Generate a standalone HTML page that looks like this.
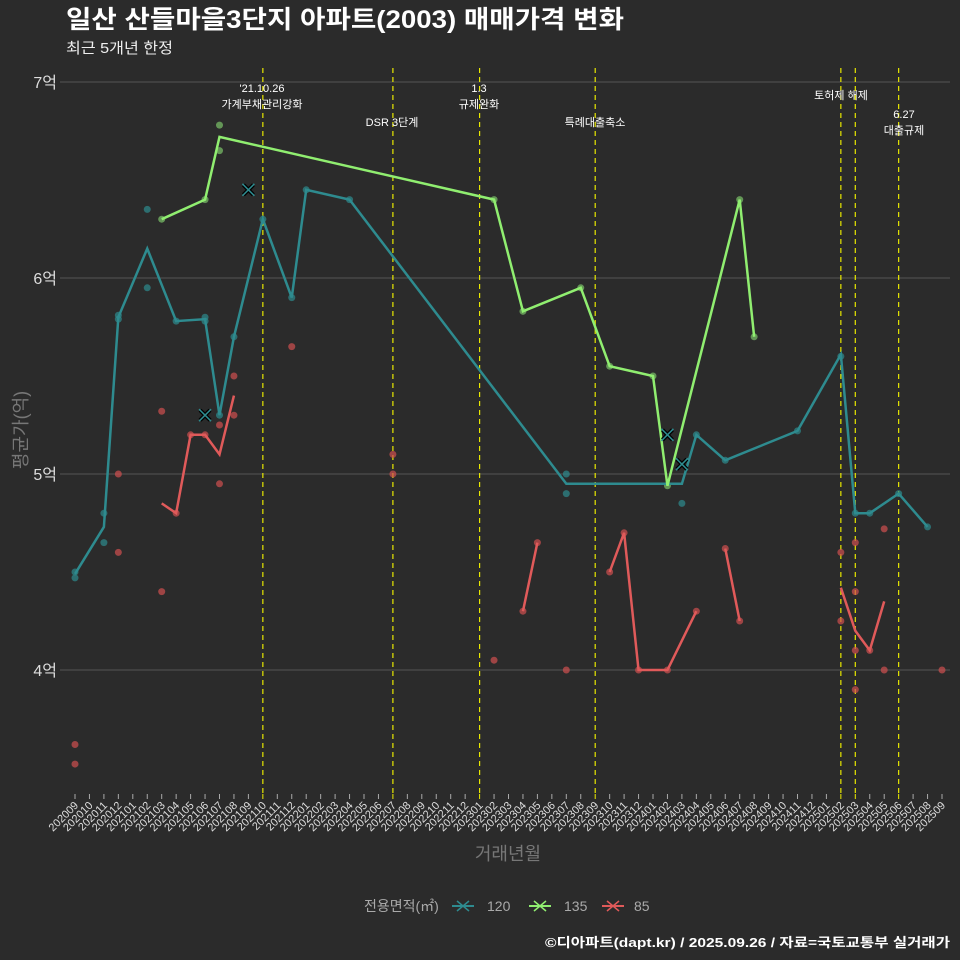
<!DOCTYPE html>
<html><head><meta charset="utf-8"><style>
body{margin:0;background:#2b2b2b;}
svg{display:block;font-family:"Liberation Sans","Noto Sans CJK KR",sans-serif;}
</style></head><body>
<svg id="c" width="960" height="960">
<rect width="960" height="960" fill="#2b2b2b"/>
<text x="66" y="28" font-size="25" font-weight="bold" fill="#fff" textLength="558" lengthAdjust="spacingAndGlyphs">일산 산들마을3단지 아파트(2003) 매매가격 변화</text>
<text x="66" y="53" font-size="15" fill="#eee" textLength="107" lengthAdjust="spacingAndGlyphs">최근 5개년 한정</text>
<text x="27" y="430" font-size="18" fill="#777" transform="rotate(-90 27 430)" text-anchor="middle">평균가(억)</text>
<text x="508" y="860" font-size="18" fill="#777" text-anchor="middle">거래년월</text>
<g id="grid"></g><g id="events"></g><g id="marks"></g><g id="xt"></g>
<g>
<text x="364" y="911" font-size="14" fill="#aaa">전용면적(㎡)</text>
<g><line x1="452" y1="906" x2="474" y2="906" stroke="#2e8b8f" stroke-width="2"/><path d="M457 901 l12 10 M469 901 l-12 10" stroke="#2e8b8f" stroke-width="1.5"/><text x="487" y="911" font-size="14" fill="#aaa">120</text></g>
<g><line x1="529" y1="906" x2="551" y2="906" stroke="#90ee70" stroke-width="2"/><path d="M534 901 l12 10 M546 901 l-12 10" stroke="#90ee70" stroke-width="1.5"/><text x="564" y="911" font-size="14" fill="#aaa">135</text></g>
<g><line x1="602" y1="906" x2="624" y2="906" stroke="#e05a5a" stroke-width="2"/><path d="M607 901 l12 10 M619 901 l-12 10" stroke="#e05a5a" stroke-width="1.5"/><text x="634" y="911" font-size="14" fill="#aaa">85</text></g>
</g>
<text x="950" y="947" font-size="13" font-weight="bold" fill="#fff" text-anchor="end" textLength="405" lengthAdjust="spacingAndGlyphs">©디아파트(dapt.kr) / 2025.09.26 / 자료=국토교통부 실거래가</text>
</svg>
<script>
const months=[];for(let y=2020,m=9;y<2025||(y==2025&&m<=9);){months.push(y+String(m).padStart(2,'0'));m++;if(m>12){m=1;y++;}}
const yTicks=[4,5,6,7];
const tealIdx=[0,2,3,5,7,9,10,11,13,15,16,19,34,41,42,43,45,50,53,54,55,57,59];
const tealVal=[4.49,4.73,5.80,6.15,5.78,5.79,5.30,5.70,6.30,5.90,6.45,6.40,4.95,4.95,4.95,5.20,5.07,5.22,5.61,4.80,4.80,4.90,4.73];
const greenIdx=[6,9,10,29,31,35,37,40,41,46,47];
const greenVal=[6.30,6.40,6.72,6.40,5.83,5.95,5.55,5.50,4.94,6.40,5.70];
const redSegIdx=[[6,7,8,9,10,11],[31,32],[37,38,39,41,43],[45,46],[53,54,55,56]];
const redSegVal=[[4.85,4.80,5.20,5.20,5.10,5.40],[4.30,4.65],[4.50,4.70,4.00,4.00,4.30],[4.62,4.25],[4.42,4.20,4.10,4.35]];
const tealPtIdx=[0,0,2,2,3,3,5,5,7,9,9,10,11,13,15,16,19,34,34,42,43,45,50,53,54,55,57,59];
const tealPtVal=[4.50,4.47,4.65,4.80,5.81,5.79,6.35,5.95,5.78,5.80,5.78,5.30,5.70,6.30,5.90,6.45,6.40,5.00,4.90,4.85,5.20,5.07,5.22,5.60,4.80,4.80,4.90,4.73];
const greenPtIdx=[6,9,10,10,29,31,35,37,40,41,46,47];
const greenPtVal=[6.30,6.40,6.78,6.65,6.40,5.83,5.95,5.55,5.50,4.94,6.40,5.70];
const redPtIdx=[0,0,3,3,6,6,7,8,9,10,10,11,11,15,22,22,29,31,32,34,37,38,39,41,43,45,46,53,53,54,54,54,54,55,56,56,60];
const redPtVal=[3.62,3.52,5.00,4.60,5.32,4.40,4.80,5.20,5.20,5.25,4.95,5.50,5.30,5.65,5.10,5.00,4.05,4.30,4.65,4.00,4.50,4.70,4.00,4.00,4.30,4.62,4.25,4.60,4.25,4.65,4.40,4.10,3.90,4.10,4.72,4.00,4.00];
const crossIdx=[9,12,41,42];
const crossVal=[5.30,6.45,5.20,5.05];
const eventIdx=[13,22,28,36,53,54,57];
const eventLabels=[["'21.10.26","가계부채관리강화"],["DSR 3단계"],["1.3","규제완화"],["특례대출축소"],["토허제 해제"],[],["6.27","대출규제"]];
const eventLabelY=[92,126,92,126,99,0,118];
const eventLabelX=[262,392,479,595,841,855,904];
const X=i=>75+i*14.45, Y=v=>278-(v-6)*196;
const NS='http://www.w3.org/2000/svg';
function mk(p,t,a){const e=document.createElementNS(NS,t);for(const k in a)e.setAttribute(k,a[k]);p.appendChild(e);return e;}
const grid=document.getElementById('grid'),ev=document.getElementById('events'),mg=document.getElementById('marks'),xt=document.getElementById('xt');
yTicks.forEach(v=>{const l=mk(grid,'line',{x1:60,x2:950,y1:Y(v),y2:Y(v),stroke:'#555','stroke-width':1});


const t=mk(grid,'text',{x:57,y:Y(v)+6,'font-size':16,fill:'#ddd','text-anchor':'end'});t.textContent=v+'억';

});
months.forEach((m,i)=>{const isE=eventIdx.includes(i);mk(xt,'line',{x1:X(i),x2:X(i),y1:794,y2:799,stroke:isE?'#ee0':'#aaa'});
const t=mk(xt,'text',{x:X(i)+4,y:806,'font-size':11,fill:'#ddd','text-anchor':'end',transform:`rotate(-45 ${X(i)+4} 806)`});t.textContent=m;

});
eventIdx.forEach((i,k)=>{const l=mk(ev,'line',{x1:X(i),x2:X(i),y1:68,y2:794,stroke:'#e8e800','stroke-width':1.2,'stroke-dasharray':'5,4'});


eventLabels[k].forEach((s,j)=>{const t=mk(ev,'text',{x:eventLabelX[k],y:eventLabelY[k]+j*16,'font-size':11,fill:'#fff','text-anchor':'middle'});t.textContent=s;

});});
function pts(ix,vs,col,name){ix.forEach((i,k)=>{const c=mk(mg,'circle',{cx:X(i),cy:Y(vs[k]),r:3.5,fill:col,opacity:0.7});

});}
function line(ix,vs,col,name){const p=mk(mg,'polyline',{points:ix.map((i,k)=>X(i)+','+Y(vs[k])).join(' '),fill:'none',stroke:col,'stroke-width':2.5});

}
pts(tealPtIdx,tealPtVal,'#2e8b8f','point-120');
pts(greenPtIdx,greenPtVal,'#7cc36a','point-135');
pts(redPtIdx,redPtVal,'#d05050','point-85');
line(tealIdx,tealVal,'#2e8b8f','line-120');
line(greenIdx,greenVal,'#90ee70','line-135');
redSegIdx.forEach((s,k)=>line(s,redSegVal[k],'#e05a5a','line-85'));
crossIdx.forEach((i,k)=>{const x=X(i),y=Y(crossVal[k]);
const b=mk(mg,'path',{d:`M${x-5} ${y-5}L${x+5} ${y+5}M${x+5} ${y-5}L${x-5} ${y+5}`,stroke:'#000','stroke-width':4});


const g=mk(mg,'path',{d:`M${x-6} ${y-6}L${x+6} ${y+6}M${x+6} ${y-6}L${x-6} ${y+6}`,stroke:'#2e8b8f','stroke-width':1.5});

});
</script>
</body></html>
